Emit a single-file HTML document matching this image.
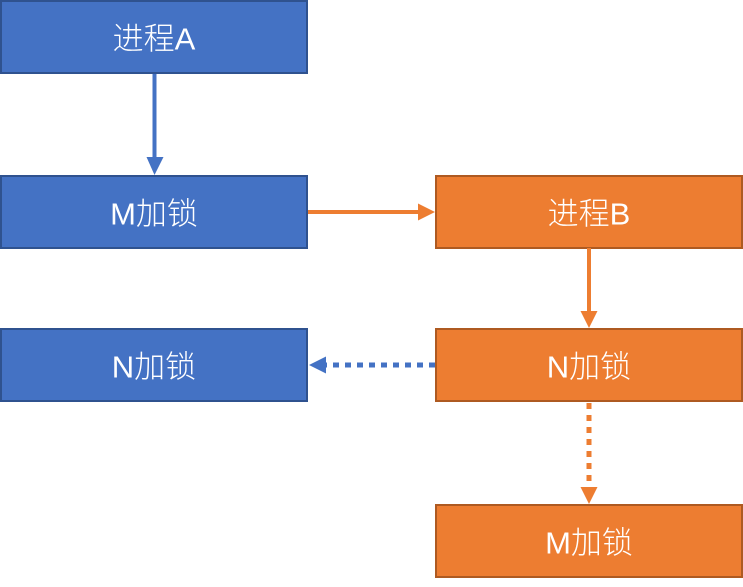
<!DOCTYPE html>
<html><head><meta charset="utf-8"><style>
html,body{margin:0;padding:0;background:#fff;}
svg{display:block;}
text{font-family:"Liberation Sans","Noto Sans CJK SC",sans-serif;font-size:31px;fill:#fff;text-anchor:middle;dominant-baseline:central;font-weight:300;}
</style></head><body>
<svg width="743" height="587" viewBox="0 0 743 587" xmlns="http://www.w3.org/2000/svg">
<g stroke-width="2">
<rect x="1" y="1" width="306" height="72" fill="#4472C4" stroke="#2F528F"/>
<rect x="1" y="176" width="306" height="72" fill="#4472C4" stroke="#2F528F"/>
<rect x="1" y="329" width="306" height="72" fill="#4472C4" stroke="#2F528F"/>
<rect x="436" y="176" width="306" height="72" fill="#ED7D31" stroke="#AE5A21"/>
<rect x="436" y="329" width="306" height="72" fill="#ED7D31" stroke="#AE5A21"/>
<rect x="436" y="505" width="306" height="72" fill="#ED7D31" stroke="#AE5A21"/>
</g>
<text x="154" y="39">进程A</text>
<text x="154" y="214">M加锁</text>
<text x="154" y="367">N加锁</text>
<text x="589" y="214">进程B</text>
<text x="589" y="367">N加锁</text>
<text x="589" y="543">M加锁</text>
<!-- A -> M -->
<line x1="154.5" y1="74" x2="154.5" y2="158" stroke="#4472C4" stroke-width="4"/>
<polygon points="146.5,157 163.5,157 154.5,175" fill="#4472C4"/>
<!-- M -> B -->
<line x1="308" y1="212" x2="419" y2="212" stroke="#ED7D31" stroke-width="4"/>
<polygon points="418,203.5 418,220.5 435,212" fill="#ED7D31"/>
<!-- B -> N -->
<line x1="589" y1="248" x2="589" y2="312" stroke="#ED7D31" stroke-width="4"/>
<polygon points="580.5,311 597.5,311 589,328" fill="#ED7D31"/>
<!-- N(B) -> N(A) dotted -->
<line x1="435" y1="365" x2="325" y2="365" stroke="#4472C4" stroke-width="5" stroke-dasharray="6,6"/>
<polygon points="326,356.5 326,373.5 309,365" fill="#4472C4"/>
<!-- N -> M dotted -->
<line x1="589" y1="403" x2="589" y2="488" stroke="#ED7D31" stroke-width="5" stroke-dasharray="6,6"/>
<polygon points="580.5,487 597.5,487 589,504" fill="#ED7D31"/>
</svg>
</body></html>
